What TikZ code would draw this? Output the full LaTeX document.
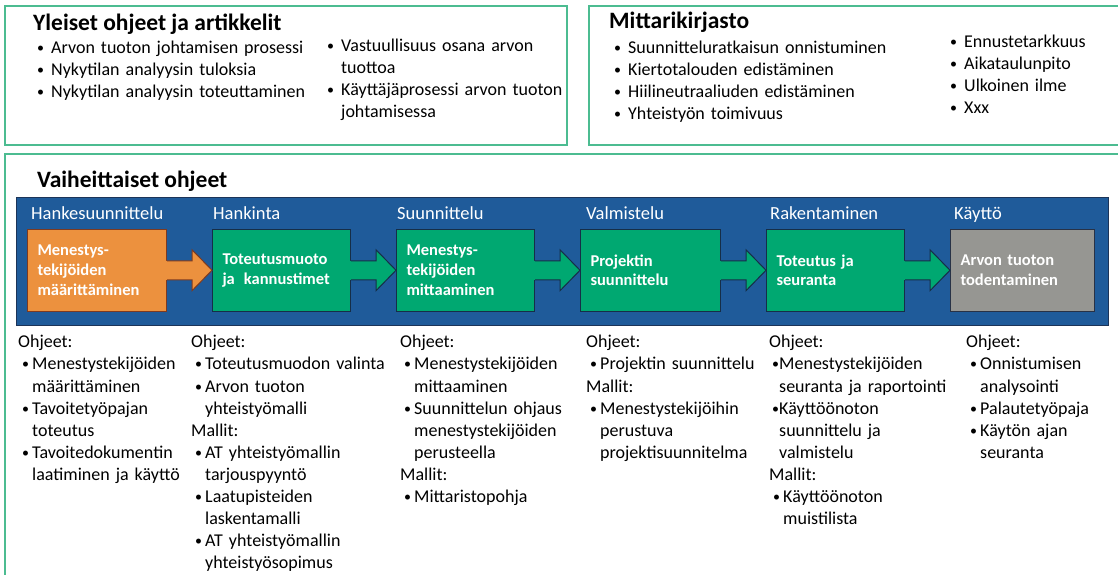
\documentclass[tikz,border=0pt]{standalone}
\usepackage{fontspec}
\setmainfont{Carlito}
\usetikzlibrary{calc}

\definecolor{framegreen}{RGB}{76,188,145}
\definecolor{bandblue}{RGB}{31,91,154}
\definecolor{bandline}{RGB}{28,52,88}
\definecolor{orangefill}{RGB}{236,145,62}
\definecolor{orangeline}{RGB}{125,58,32}
\definecolor{greenfill}{RGB}{0,168,113}
\definecolor{greenline}{RGB}{22,46,72}
\definecolor{grayfill}{RGB}{150,150,146}
\definecolor{grayline}{RGB}{40,50,70}

% list helpers: a heading line, and a bulleted item whose wrapped lines hang under its text
\newcommand\smallbullet{\raisebox{1pt}{\fontsize{14}{14}\selectfont\textbullet}}
\newcommand\lhead[1]{\par\noindent\strut#1}
\newcommand\litem[3]{\par\noindent\strut\makebox[#2][l]{\hspace{#1}\smallbullet}%
  \parbox[t]{330pt}{\strut#3\strut}}
\newcommand\bitem[1]{\litem{4pt}{14pt}{#1}}
\newcommand\titem[1]{\litem{4pt}{18pt}{#1}}

\tikzset{
  frameline/.style={draw=framegreen, line width=1.6pt},
  boxtitle/.style={anchor=base west, inner sep=0pt, font=\bfseries\fontsize{23.5}{28}\selectfont},
  listblock/.style={anchor=north west, inner sep=0pt, text width=350pt,
    font=\fontsize{18}{22.1}\selectfont,
    execute at begin node={\lineskip=0pt\lineskiplimit=0pt\parindent=0pt\hbadness=10000\hfuzz=400pt}},
  phase/.style={anchor=base west, inner sep=0pt, text=white, font=\fontsize{18.5}{20}\selectfont},
  stage/.style={anchor=north west, line width=1pt, minimum height=81.5pt, inner xsep=10pt,
    inner ysep=0pt, align=left, text=white, font=\bfseries\fontsize{16.5}{19.8}\selectfont},
  orangestage/.style={stage, fill=orangefill, draw=orangeline},
  greenstage/.style={stage, fill=greenfill, draw=greenline},
  graystage/.style={stage, fill=grayfill, draw=grayline},
}

% block arrow joining two stage boxes: shaft leaves #1, tip touches #2
\newcommand\stagearrow[4]{%
  \fill[#3] ([xshift=-1pt,yshift=9.5pt]#1.east) -- ([xshift=-20pt,yshift=9.5pt]#2.west)
    -- ([xshift=-20pt,yshift=20.5pt]#2.west) -- (#2.west)
    -- ([xshift=-20pt,yshift=-20.5pt]#2.west) -- ([xshift=-20pt,yshift=-9.5pt]#2.west)
    -- ([xshift=-1pt,yshift=-9.5pt]#1.east) -- cycle;
  \draw[#4, line width=1pt, line join=miter] ([yshift=9.5pt]#1.east) -- ([xshift=-20pt,yshift=9.5pt]#2.west)
    -- ([xshift=-20pt,yshift=20.5pt]#2.west) -- (#2.west)
    -- ([xshift=-20pt,yshift=-20.5pt]#2.west) -- ([xshift=-20pt,yshift=-9.5pt]#2.west)
    -- ([yshift=-9.5pt]#1.east);
}

\begin{document}
\begin{tikzpicture}[x=1pt,y=-1pt]
\useasboundingbox (0,0) rectangle (1118,574);
\fill[white] (0,0) rectangle (1118,574);
\begin{scope}
\clip (0,0) rectangle (1118,574);

% ---- general guides and articles ----
\draw[frameline] (5,6) rectangle (567,145);
\node[boxtitle] (t1) at (33,30) {Yleiset ohjeet ja artikkelit};
\node[listblock] (l1a) at (33,31) {%
  \titem{Arvon tuoton johtamisen prosessi}
  \titem{Nykytilan analyysin tuloksia}
  \titem{Nykytilan analyysin toteuttaminen}};
\node[listblock] (l1b) at (323,29) {%
  \titem{Vastuullisuus osana arvon\\tuottoa}
  \titem{Käyttäjäprosessi arvon tuoton\\johtamisessa}};

% ---- metric library ----
\draw[frameline] (1125,6) -- (589,6) -- (589,145) -- (1125,145);
\node[boxtitle] (t2) at (609,28) {Mittarikirjasto};
\node[listblock] (l2a) at (610,31) {%
  \titem{Suunnitteluratkaisun onnistuminen}
  \titem{Kiertotalouden edistäminen}
  \titem{Hiilineutraaliuden edistäminen}
  \titem{Yhteistyön toimivuus}};
\node[listblock] (l2b) at (946,25) {%
  \titem{Ennustetarkkuus}
  \titem{Aikataulunpito}
  \titem{Ulkoinen ilme}
  \titem{Xxx}};

% ---- phased guides ----
\draw[frameline] (1125,154) -- (5,154) -- (5,590);
\node[boxtitle] (t3) at (37,187) {Vaiheittaiset ohjeet};

\draw[fill=bandblue, draw=bandline, line width=1pt] (16,197) rectangle (1108,325);

\node[phase] (p1) at (31,219) {Hankesuunnittelu};
\node[phase] (p2) at (213,219) {Hankinta};
\node[phase] (p3) at (397,219) {Suunnittelu};
\node[phase] (p4) at (586,219) {Valmistelu};
\node[phase] (p5) at (770,219) {Rakentaminen};
\node[phase] (p6) at (954,219) {Käyttö};

\node[orangestage, text width=119pt] (s1) at (27,229) {Menestys-\\tekijöiden\\määrittäminen};
\node[greenstage, text width=118pt] (s2) at (212,229) {Toteutusmuoto\\ja\hspace{0.55em}kannustimet};
\node[greenstage, text width=118pt] (s3) at (396,229) {Menestys-\\tekijöiden\\mittaaminen};
\node[greenstage, text width=120pt] (s4) at (580,229) {Projektin\\suunnittelu};
\node[greenstage, text width=118pt] (s5) at (766,229) {Toteutus ja\\seuranta};
\node[graystage, text width=124pt] (s6) at (950,229) {Arvon tuoton\\todentaminen};

\stagearrow{s1}{s2}{orangefill}{orangeline}
\stagearrow{s2}{s3}{greenfill}{greenline}
\stagearrow{s3}{s4}{greenfill}{greenline}
\stagearrow{s4}{s5}{greenfill}{greenline}
\stagearrow{s5}{s6}{greenfill}{greenline}

% ---- guide lists under each phase ----
\node[listblock] (g1) at (18,325.5) {%
  \lhead{Ohjeet:}
  \bitem{Menestystekijöiden\\määrittäminen}
  \bitem{Tavoitetyöpajan\\toteutus}
  \bitem{Tavoitedokumentin\\laatiminen ja käyttö}};
\node[listblock] (g2) at (191,325.5) {%
  \lhead{Ohjeet:}
  \bitem{Toteutusmuodon valinta}
  \bitem{Arvon tuoton\\yhteistyömalli}
  \lhead{Mallit:}
  \bitem{AT yhteistyömallin\\tarjouspyyntö}
  \bitem{Laatupisteiden\\laskentamalli}
  \bitem{AT yhteistyömallin\\yhteistyösopimus}};
\node[listblock] (g3) at (400,325.5) {%
  \lhead{Ohjeet:}
  \bitem{Menestystekijöiden\\mittaaminen}
  \bitem{Suunnittelun ohjaus\\menestystekijöiden\\perusteella}
  \lhead{Mallit:}
  \bitem{Mittaristopohja}};
\node[listblock] (g4) at (586,325.5) {%
  \lhead{Ohjeet:}
  \bitem{Projektin suunnittelu}
  \lhead{Mallit:}
  \bitem{Menestystekijöihin\\perustuva\\projektisuunnitelma}};
\node[listblock] (g5) at (769,325.5) {%
  \lhead{Ohjeet:}
  \litem{3pt}{10pt}{Menestystekijöiden\\seuranta ja raportointi}
  \litem{3pt}{10pt}{Käyttöönoton\\suunnittelu ja\\valmistelu}
  \lhead{Mallit:}
  \bitem{Käyttöönoton\\muistilista}};
\node[listblock] (g6) at (966,325.5) {%
  \lhead{Ohjeet:}
  \bitem{Onnistumisen\\analysointi}
  \bitem{Palautetyöpaja}
  \bitem{Käytön ajan\\seuranta}};
\end{scope}
\end{tikzpicture}
\end{document}
